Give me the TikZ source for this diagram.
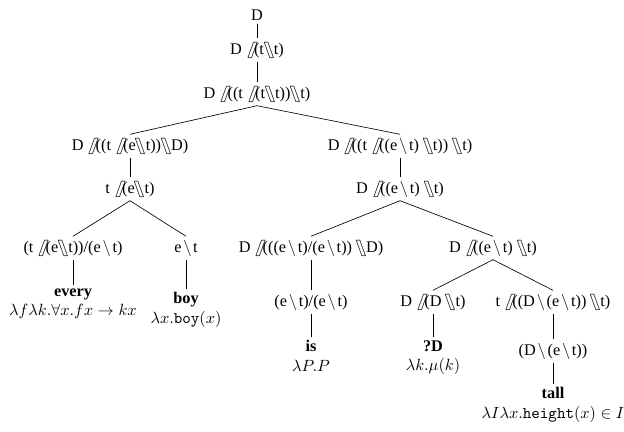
\documentclass[tikz,border=0pt]{standalone}
\usepackage{stmaryrd}
\usepackage{fontspec}
\setmainfont{Liberation Serif}
\newcommand{\fsl}{$\mkern-3mu\mathord{\fatslash}\mkern-1mu$}
\newcommand{\fbs}{$\mkern-1mu\mathord{\fatbslash}\mkern-1mu$}
\newcommand{\bsl}{$\mkern2mu\backslash\mkern2mu$}
\begin{document}
\begin{tikzpicture}[x=0.615pt,y=-0.615pt,
  cat/.style={inner sep=2pt, align=center}]
\useasboundingbox (0,0) rectangle (624,432);
\node[cat] (n1) at (257,15) {D};
\node[cat] (n2) at (257,50) {D \fsl(t\fbs t)};
\node[cat] (n3) at (257,94) {D \fsl((t \fsl(t\fbs t))\fbs t)};
\node[cat] (n4) at (130,146) {D \fsl((t \fsl(e\fbs t))\fbs D)};
\node[cat] (n5) at (400,146) {D \fsl((t \fsl((e\bsl t) \fbs t)) \fbs t)};
\node[cat] (n6) at (130,189) {t \fsl(e\fbs t)};
\node[cat] (n7) at (400,189) {D \fsl((e\bsl t) \fbs t)};
\node[cat] (n8) at (73,248) {(t \fsl(e\fbs t))/(e\bsl t)};
\node[cat] (n9) at (186,248) {e\bsl t};
\node[cat] (n10) at (311,248) {D \fsl(((e\bsl t)/(e\bsl t)) \fbs D)};
\node[cat] (n11) at (493,248) {D \fsl((e\bsl t) \fbs t)};
\node[cat] (n12) at (311,302) {(e\bsl t)/(e\bsl t)};
\node[cat] (n13) at (433,302) {D \fsl(D \fbs t)};
\node[cat] (n14) at (553,302) {t \fsl((D\bsl(e\bsl t)) \fbs t)};
\node[cat] (n15) at (553,351) {(D\bsl(e\bsl t))};

% lexical entries
\node[cat, anchor=north] (w1) at (73,285) {\textbf{every}\\$\lambda f\lambda k.\forall x.fx\rightarrow kx$};
\node[cat, anchor=north] (w2) at (186,289) {\textbf{boy}\\$\lambda x.\mathtt{boy}(x)$};
\node[cat, anchor=north] (w3) at (311,337) {\textbf{is}\\$\lambda P.P$};
\node[cat, anchor=north] (w4) at (433,337) {\textbf{?D}\\$\lambda k.\mu(k)$};
\node[cat, anchor=north] (w5) at (553,384) {\textbf{tall}\\$\lambda I\lambda x.\mathtt{height}(x)\in I$};

\draw (n1) -- (n2);
\draw (n2) -- (n3);
\draw (n3.south) -- (n4.north);
\draw (n3.south) -- (n5.north);
\draw (n4) -- (n6);
\draw (n5) -- (n7);
\draw (n6.south) -- (n8.north);
\draw (n6.south) -- (n9.north);
\draw (n7.south) -- (n10.north);
\draw (n7.south) -- (n11.north);
\draw (n8) -- (w1);
\draw (n9) -- (w2);
\draw (n10) -- (n12);
\draw (n11.south) -- (n13.north);
\draw (n11.south) -- (n14.north);
\draw (n12) -- (w3);
\draw (n13) -- (w4);
\draw (n14) -- (n15);
\draw (n15) -- (w5);
\end{tikzpicture}
\end{document}
